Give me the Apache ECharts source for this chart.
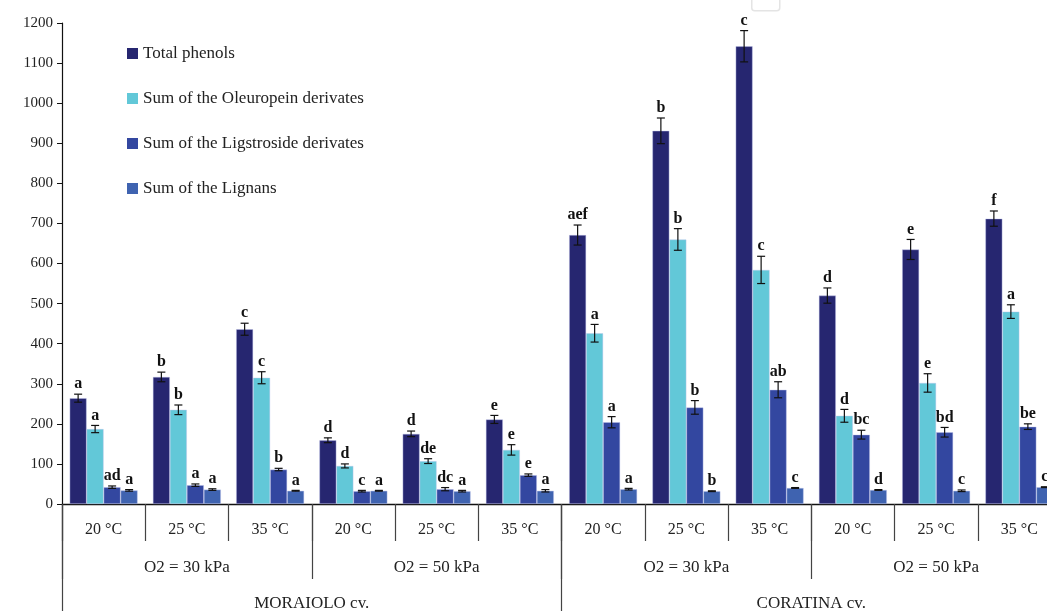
<!DOCTYPE html>
<html>
<head>
<meta charset="utf-8">
<script src="https://cdn.jsdelivr.net/npm/echarts@6/dist/echarts.min.js"></script>
<style>
  html, body { margin: 0; padding: 0; background: #fff; }
  #chart { width: 1047px; height: 611px; }
</style>
</head>
<body>
<div id="chart"></div>
<script>
// Temperature / O2 / cultivar levels of the x axis
const temperatures = ['20 °C', '25 °C', '35 °C', '20 °C', '25 °C', '35 °C',
                      '20 °C', '25 °C', '35 °C', '20 °C', '25 °C', '35 °C'];
const o2Levels = ['O2 = 30 kPa', 'O2 = 50 kPa', 'O2 = 30 kPa', 'O2 = 50 kPa'];
const cultivars = ['MORAIOLO cv.', 'CORATINA cv.'];

const seriesNames = ['Total phenols', 'Sum of the Oleuropein derivates',
                     'Sum of the Ligstroside derivates', 'Sum of the Lignans'];

// Means, standard errors and significance letters per series
const totalPhenols = [264, 317, 436, 159, 175, 211, 671, 931, 1142, 520, 635, 712];
const totalErr     = [10, 12, 15, 6, 7, 10, 25, 32, 39, 19, 25, 19];
const totalLetters = ['a', 'b', 'c', 'd', 'd', 'e', 'aef', 'b', 'c', 'd', 'e', 'f'];

const oleuropein   = [187, 235, 315, 95, 107, 135, 426, 660, 584, 220, 302, 480];
const oleErr       = [9, 12, 15, 5, 6, 13, 22, 27, 34, 16, 23, 17];
const oleLetters   = ['a', 'b', 'c', 'd', 'de', 'e', 'a', 'b', 'c', 'd', 'e', 'a'];

const ligstroside  = [42, 47, 86, 32, 37, 72, 204, 241, 285, 173, 179, 193];
const ligErr       = [3, 3, 3, 2, 4, 3, 14, 17, 20, 11, 12, 7];
const ligLetters   = ['ad', 'a', 'b', 'c', 'dc', 'e', 'a', 'b', 'ab', 'bc', 'bd', 'be'];

const lignans      = [34, 36, 33, 33, 32, 33, 37, 32, 40, 35, 33, 42];
const lignErr      = [2, 2, 1, 1, 2, 3, 2, 1, 1, 1, 2, 1];
const lignLetters  = ['a', 'a', 'a', 'a', 'a', 'a', 'a', 'b', 'c', 'd', 'c', 'c'];

const yTicks = { min: 0, max: 1200, interval: 100 };

const colors = ['#262670', '#62c8d8', '#3347a0', '#3f63b0'];
const values = [totalPhenols, oleuropein, ligstroside, lignans];
const errors = [totalErr, oleErr, ligErr, lignErr];
const letters = [totalLetters, oleLetters, ligLetters, lignLetters];

const BAR_W = 17;
const serif = '"Liberation Serif", "DejaVu Serif", serif';

const barSeries = values.map((vals, i) => ({
  name: seriesNames[i],
  type: 'bar',
  xAxisIndex: 0,
  barWidth: BAR_W,
  barGap: '0%',
  itemStyle: { color: colors[i], borderColor: 'rgba(190,195,235,0.7)', borderWidth: 0.6 },
  data: vals,
  z: 2
}));

// Error bars with significance letters, placed over each bar
const errSeries = values.map((vals, i) => ({
  type: 'custom',
  xAxisIndex: 0,
  z: 5,
  data: vals.map((v, k) => [k, v, errors[i][k]]),
  renderItem: function (params, api) {
    const k = api.value(0), v = api.value(1), e = api.value(2);
    const letter = letters[i][k];
    const off = (i - 1.5) * BAR_W;
    const hi = api.coord([k, v + e]);
    const lo = api.coord([k, Math.max(v - e, 0)]);
    const x = hi[0] + off;
    const cap = 4;
    const st = { stroke: '#111', lineWidth: 1.2 };
    return {
      type: 'group',
      children: [
        { type: 'line', shape: { x1: x, y1: hi[1], x2: x, y2: lo[1] }, style: st },
        { type: 'line', shape: { x1: x - cap, y1: hi[1], x2: x + cap, y2: hi[1] }, style: st },
        { type: 'line', shape: { x1: x - cap, y1: lo[1], x2: x + cap, y2: lo[1] }, style: st },
        { type: 'text', style: {
            text: letter, x: x, y: hi[1] - 2,
            align: 'center', verticalAlign: 'bottom',
            font: 'bold 16px ' + serif, fill: '#111'
        } }
      ]
    };
  }
}));

const chart = echarts.init(document.getElementById('chart'), null, { renderer: 'canvas' });

const labelText = (size) => ({ color: '#222', fontFamily: serif, fontSize: size });

chart.setOption({
  animation: false,
  backgroundColor: '#fff',
  color: colors,
  // the plot runs a little past the right edge of the canvas
  grid: { left: 62, top: 23, width: 999, height: 481, containLabel: false, outerBoundsMode: 'none' },
  legend: {
    data: seriesNames,
    orient: 'vertical',
    left: 127,
    top: 45,
    padding: 0,
    itemWidth: 11,
    itemHeight: 11,
    itemGap: 28,
    icon: 'rect',
    itemStyle: { borderWidth: 0 },
    textStyle: { color: '#222', fontFamily: serif, fontSize: 17, lineHeight: 14 }
  },
  xAxis: [
    {
      type: 'category',
      data: temperatures,
      position: 'bottom',
      axisLine: { show: true, lineStyle: { color: '#111', width: 1.3 } },
      axisTick: { show: true, length: 37, lineStyle: { color: '#444', width: 1.2 } },
      axisLabel: Object.assign({ margin: 18, interval: 0 }, labelText(16)),
      splitLine: { show: false }
    },
    {
      type: 'category',
      data: o2Levels,
      position: 'bottom',
      axisLine: { show: false },
      axisTick: { show: true, length: 75, lineStyle: { color: '#444', width: 1.2 } },
      axisLabel: Object.assign({ margin: 55, interval: 0 }, labelText(17)),
      splitLine: { show: false }
    },
    {
      type: 'category',
      data: cultivars,
      position: 'bottom',
      axisLine: { show: false },
      axisTick: { show: true, length: 115, lineStyle: { color: '#444', width: 1.2 } },
      axisLabel: Object.assign({ margin: 91, interval: 0 }, labelText(17)),
      splitLine: { show: false }
    }
  ],
  yAxis: {
    type: 'value',
    min: yTicks.min,
    max: yTicks.max,
    interval: yTicks.interval,
    axisLine: { show: true, lineStyle: { color: '#111', width: 1.2 } },
    axisTick: { show: true, length: 5, lineStyle: { color: '#111' } },
    axisLabel: Object.assign({ margin: 9, formatter: (v) => String(v) }, labelText(15)),
    splitLine: { show: false }
  },
  graphic: [
    { type: 'rect', left: 751, top: -6, shape: { width: 28, height: 16, r: 3 },
      style: { fill: '#fff', stroke: '#e4e4e4', lineWidth: 1.5 }, z: 100 }
  ],
  series: barSeries.concat(errSeries)
});
</script>
</body>
</html>
